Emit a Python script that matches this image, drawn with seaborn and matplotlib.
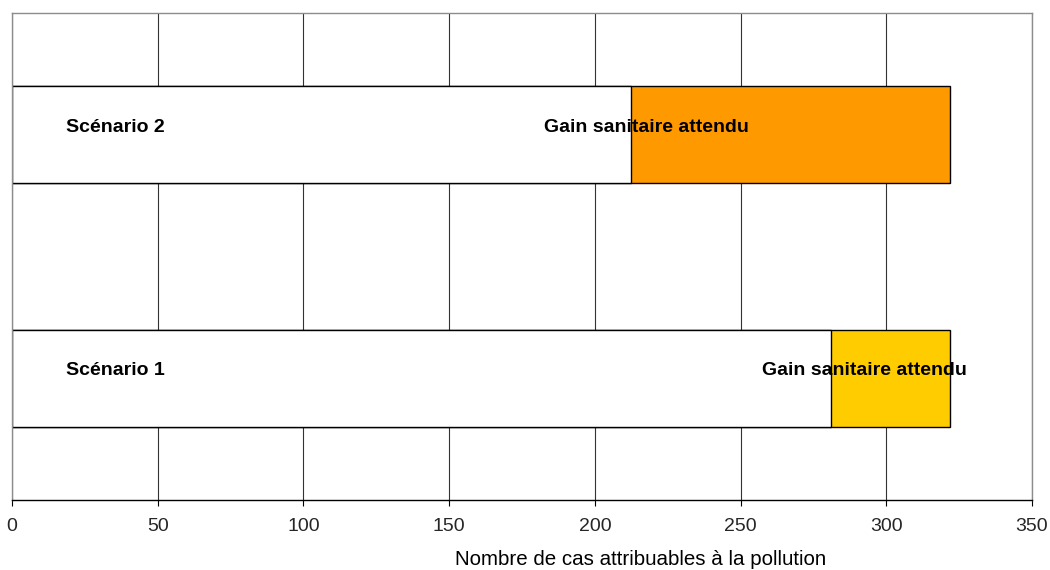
import matplotlib
matplotlib.use("Agg")
import matplotlib.pyplot as plt
import seaborn as sns
import pandas as pd

# Scenarios, listed top to bottom
scenarios = ["Scénario 2", "Scénario 1"]
# Cases still attributable to pollution under each scenario
remaining_cases = [212.5, 281]
# Expected health gain (cases avoided)
health_gain = [109.5, 41]
gain_colors = ["#FF9900", "#FFCC00"]
gain_label = "Gain sanitaire attendu"
# Left edge of the gain label, in data units
gain_label_x = [182.5, 257.5]
x_ticks = [0, 50, 100, 150, 200, 250, 300, 350]
x_label = "Nombre de cas attribuables à la pollution"

df = pd.DataFrame({
    "scenario": scenarios,
    "remaining": remaining_cases,
    "gain": health_gain,
})
df["total"] = df["remaining"] + df["gain"]

sns.set_theme(style="white")
plt.rcParams["font.family"] = ["Liberation Sans", "DejaVu Sans"]

fig = plt.figure(figsize=(10.5, 5.7), dpi=100)
ax = fig.add_axes([12 / 1050, 70 / 570, 1020 / 1050, 487 / 570])

# Full length (gain segment colour), then the remaining cases in white on top
sns.barplot(data=df, x="total", y="scenario", hue="scenario", palette=gain_colors,
            order=scenarios, hue_order=scenarios, orient="h", width=0.4,
            saturation=1, edgecolor="black", linewidth=1.0, legend=False, ax=ax)
sns.barplot(data=df, x="remaining", y="scenario", color="white",
            order=scenarios, orient="h", width=0.4, saturation=1,
            edgecolor="black", linewidth=1.0, ax=ax)

# Labels inside the bars
for i, name in enumerate(scenarios):
    ax.text(18.5, i - 0.03, name, ha="left", va="center",
            fontsize=14, fontweight="bold", color="black", zorder=5)
    ax.text(gain_label_x[i], i - 0.03, gain_label, ha="left", va="center",
            fontsize=14, fontweight="bold", color="black", zorder=5)

ax.set_xlim(0, 350)
ax.set_ylim(1.5, -0.5)
ax.set_xticks(x_ticks)
ax.set_xticklabels([str(t) for t in x_ticks])
ax.set_yticks([])
ax.set_ylabel("")
ax.set_xlabel(x_label, fontsize=14.8, color="black", labelpad=11)
ax.xaxis.label.set_x(0.616)

ax.xaxis.grid(True, color="#333333", linewidth=0.8)
ax.set_axisbelow(True)
ax.tick_params(axis="x", which="major", direction="out", length=4,
               width=0.8, color="black", pad=9, labelsize=14, bottom=True)

for side in ("top", "left", "right"):
    ax.spines[side].set_color("#8c8c8c")
    ax.spines[side].set_linewidth(1.0)
ax.spines["bottom"].set_color("black")
ax.spines["bottom"].set_linewidth(1.0)

fig.savefig("out.png", dpi=100, facecolor="white")
